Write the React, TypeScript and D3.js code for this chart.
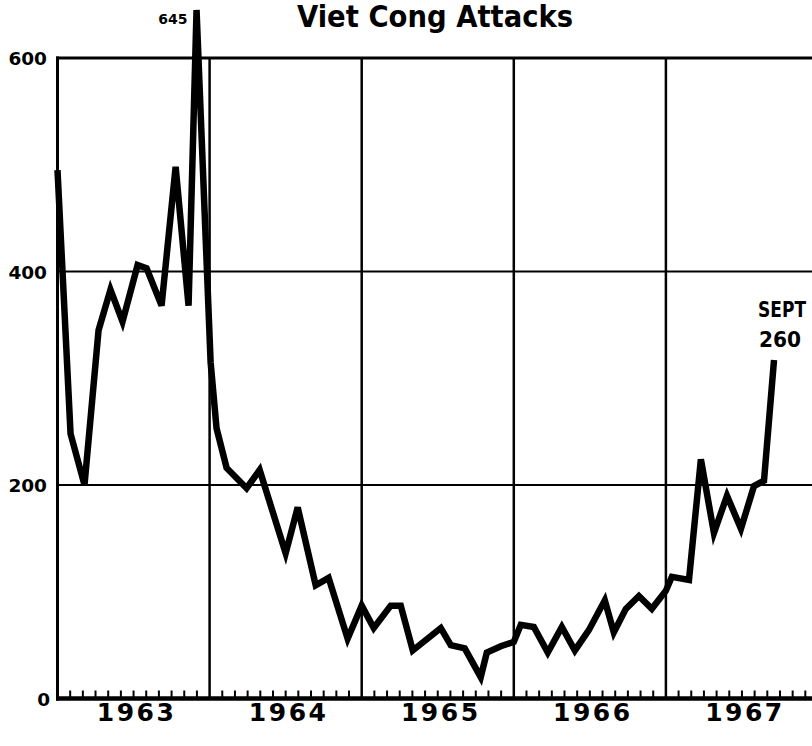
import React from "react";
import * as d3 from "d3";

// Month index from Jan 1963 (0 = Jan 1963)
const months = [0, 1.03, 2.13, 3.24, 4.18, 5.13, 6.32, 7.03, 8.21, 9.32, 10.34, 10.97, 12.08, 12.55, 13.34, 14.92, 15.95, 18.0, 18.95, 20.37, 21.39, 22.89, 24.0, 24.95, 26.29, 27.08, 28.03, 30.24, 31.03, 32.13, 33.39, 33.87, 34.97, 36.0, 36.55, 37.58, 38.68, 39.79, 40.82, 41.92, 43.18, 43.89, 44.84, 45.87, 46.89, 48.0, 48.47, 49.82, 50.76, 51.79, 52.82, 53.92, 54.95, 55.74, 56.53];
const attacks = [495, 248, 200, 345, 383, 353, 406, 403, 368, 498, 368, 645, 315, 253, 216, 197, 214, 136, 179, 106, 113, 56, 87, 66, 87, 87, 45, 66, 50, 47, 20, 43, 49, 53, 69, 67, 43, 67, 45, 64, 92, 62, 84, 96, 84, 101, 114, 111, 224, 155, 190, 159, 199, 204, 317];

const years = ["1963", "1964", "1965", "1966", "1967"];
const yTicks = [0, 200, 400, 600];
const title = "Viet Cong Attacks";
const peakLabel = "645";
const endLabel = ["SEPT", "260"];

const W = 812;
const H = 746;
const X0 = 57.5;
const YEAR_W = 152.1;

export default function App() {
  const x = d3.scaleLinear().domain([0, 60]).range([X0, X0 + YEAR_W * 5]);
  const y = d3.scaleLinear().domain([0, 600]).range([698.5, 58]);

  const pts: [number, number][] = months.map((m, i) => [m, attacks[i]]);
  const line = d3
    .line<[number, number]>()
    .x((d) => x(d[0]))
    .y((d) => y(d[1]));

  const monthTicks = d3.range(1, 60).filter((m) => m % 12 !== 0 && x(m) < W);
  const yearBounds = [12, 24, 36, 48];
  const font = "'DejaVu Sans', Verdana, sans-serif";
  const condFont = "'DejaVu Sans Condensed', 'Liberation Sans Narrow', 'DejaVu Sans', sans-serif";
  const peakIdx = attacks.indexOf(645);
  const lastIdx = attacks.length - 1;

  return (
    <svg
      width={W}
      height={H}
      style={{ position: "absolute", left: 0, top: 0, background: "#fff" }}
    >
      <rect x={0} y={0} width={W} height={H} fill="#fff" />
      {/* title */}
      <text
        x={435}
        y={27}
        textAnchor="middle"
        fontFamily={condFont}
        fontWeight="bold"
        fontSize={30}
        textLength={276}
        lengthAdjust="spacingAndGlyphs"
        fill="#000"
      >
        {title}
      </text>

      {/* horizontal grid lines */}
      {[200, 400].map((v) => (
        <line key={v} x1={X0} x2={W} y1={y(v)} y2={y(v)} stroke="#000" strokeWidth={2} />
      ))}
      {/* top frame */}
      <line x1={X0 - 1.5} x2={W} y1={y(600)} y2={y(600)} stroke="#000" strokeWidth={3} />
      {/* vertical year lines */}
      {yearBounds.map((m) => (
        <line key={m} x1={x(m)} x2={x(m)} y1={y(600)} y2={y(0)} stroke="#000" strokeWidth={2.5} />
      ))}
      {/* left axis */}
      <line x1={X0} x2={X0} y1={y(600) - 1.5} y2={y(0) + 2} stroke="#000" strokeWidth={3} />
      {/* month ticks */}
      {monthTicks.map((m) => (
        <line key={m} x1={x(m)} x2={x(m)} y1={y(0)} y2={y(0) - 8} stroke="#000" strokeWidth={2} />
      ))}
      {/* baseline */}
      <line x1={X0 - 1.5} x2={W} y1={y(0)} y2={y(0)} stroke="#000" strokeWidth={4.5} />

      {/* data line */}
      <path
        d={line(pts) || ""}
        fill="none"
        stroke="#000"
        strokeWidth={6.5}
        strokeLinejoin="miter"
        strokeMiterlimit={4}
      />

      {/* y labels */}
      {yTicks.map((v) => (
        <text
          key={v}
          x={v === 0 ? 50 : 47}
          y={y(v) + 7}
          textAnchor="end"
          fontFamily={font}
          fontWeight="bold"
          fontSize={18.5}
          fill="#000"
        >
          {v}
        </text>
      ))}

      {/* year labels */}
      {years.map((yr, i) => (
        <text
          key={yr}
          x={x(i * 12 + 6) + 3}
          y={721}
          textAnchor="middle"
          fontFamily={font}
          fontWeight="bold"
          fontSize={25}
          letterSpacing={2.5}
          fill="#000"
        >
          {yr}
        </text>
      ))}

      {/* peak label */}
      <text
        x={x(months[peakIdx]) - 9}
        y={24}
        textAnchor="end"
        fontFamily={font}
        fontWeight="bold"
        fontSize={14}
        fill="#000"
      >
        {peakLabel}
      </text>

      {/* end label */}
      <text
        x={x(months[lastIdx]) + 8}
        y={317}
        textAnchor="middle"
        fontFamily={condFont}
        fontWeight="bold"
        fontSize={21}
        textLength={48}
        lengthAdjust="spacingAndGlyphs"
        fill="#000"
      >
        {endLabel[0]}
      </text>
      <text
        x={x(months[lastIdx]) + 6}
        y={347}
        textAnchor="middle"
        fontFamily={condFont}
        fontWeight="bold"
        fontSize={21}
        textLength={42}
        lengthAdjust="spacingAndGlyphs"
        fill="#000"
      >
        {endLabel[1]}
      </text>
    </svg>
  );
}
